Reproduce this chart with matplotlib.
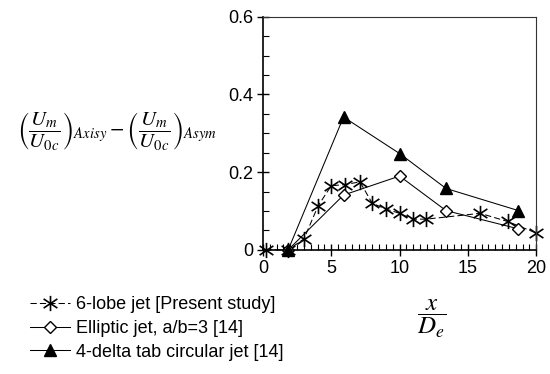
import numpy as np
import matplotlib
matplotlib.use("Agg")
import matplotlib.pyplot as plt
from matplotlib.path import Path
from matplotlib.ticker import MultipleLocator, FixedLocator

plt.rcParams['font.family'] = ['Liberation Sans', 'DejaVu Sans']
plt.rcParams['mathtext.fontset'] = 'stix'

# 6-lobe jet [Present study]
lobe_x = [0.2, 1.85, 3.0, 4.05, 5.0, 6.0, 7.1, 8.0, 9.0, 10.0, 10.95, 11.95, 15.9, 17.9, 19.95]
lobe_y = [0.0, 0.0, 0.028, 0.114, 0.165, 0.168, 0.175, 0.12, 0.105, 0.094, 0.079, 0.079, 0.094, 0.073, 0.044]

# Elliptic jet, a/b=3 [14]
ellip_x = [1.85, 5.9, 10.0, 13.4, 18.7]
ellip_y = [0.0, 0.141, 0.19, 0.101, 0.054]

# 4-delta tab circular jet [14]
delta_x = [1.85, 5.9, 10.0, 13.4, 18.7]
delta_y = [0.0, 0.342, 0.248, 0.158, 0.101]

labels = ['6-lobe jet [Present study]', 'Elliptic jet, a/b=3 [14]',
          '4-delta tab circular jet [14]']

y_ticks = [0, 0.2, 0.4, 0.6]
y_ticklabels = ['0', '0.2', '0.4', '0.6']
x_ticks = [0, 5, 10, 15, 20]

# asterisk marker: vertical bar plus an X
star = Path([(0, -1), (0, 1), (-0.9, -0.6), (0.9, 0.6), (-0.9, 0.6), (0.9, -0.6)],
            [Path.MOVETO, Path.LINETO, Path.MOVETO, Path.LINETO, Path.MOVETO, Path.LINETO])

fig = plt.figure(figsize=(5.5, 3.74), dpi=100)
ax = fig.add_axes([0.478, 0.332, 0.497, 0.623])

ax.plot(lobe_x, lobe_y, color='black', lw=0.75, ls=(0, (6, 3)), marker=star,
        ms=11, mew=1.2, mfc='none', mec='black', label=labels[0], clip_on=False)
ax.plot(ellip_x, ellip_y, color='black', lw=0.75, marker='D', ms=6,
        mfc='white', mec='black', mew=1.0, label=labels[1], clip_on=False)
ax.plot(delta_x, delta_y, color='black', lw=0.75, marker='^', ms=9,
        mfc='black', mec='black', label=labels[2], clip_on=False)

ax.set_xlim(0, 20)
ax.set_ylim(0, 0.6)
ax.xaxis.set_major_locator(FixedLocator(x_ticks))
ax.xaxis.set_minor_locator(MultipleLocator(0.5))
ax.yaxis.set_major_locator(FixedLocator(y_ticks))
ax.set_yticklabels(y_ticklabels)
ax.yaxis.set_minor_locator(MultipleLocator(0.05))
ax.tick_params(which='major', direction='inout', length=8, width=1.0,
               labelsize=13, pad=3)
ax.tick_params(which='minor', direction='in', length=4, width=0.8)
ax.tick_params(axis='x', which='both', top=False)
ax.tick_params(axis='y', which='both', right=False)
for side in ['top', 'right']:
    ax.spines[side].set_linewidth(0.8)
    ax.spines[side].set_color('#333333')
for side in ['left', 'bottom']:
    ax.spines[side].set_linewidth(1.2)

fig.text(117 / 550, 1 - 131 / 374,
         r'$\left(\dfrac{U_m}{U_{0c}}\right)_{Axisy}-\left(\dfrac{U_m}{U_{0c}}\right)_{Asym}$',
         ha='center', va='center', fontsize=15)
fig.text(432 / 550, 1 - 319 / 374, r'$\dfrac{x}{D_e}$',
         ha='center', va='center', fontsize=18)

handles, _ = ax.get_legend_handles_labels()
fig.legend(handles, labels, loc='upper left', bbox_to_anchor=(30 / 550, 1 - 296 / 374),
           frameon=False, fontsize=13, handlelength=2.2, handletextpad=0.35,
           labelspacing=0.38, borderpad=0, borderaxespad=0)

fig.savefig('out.png', dpi=100)
